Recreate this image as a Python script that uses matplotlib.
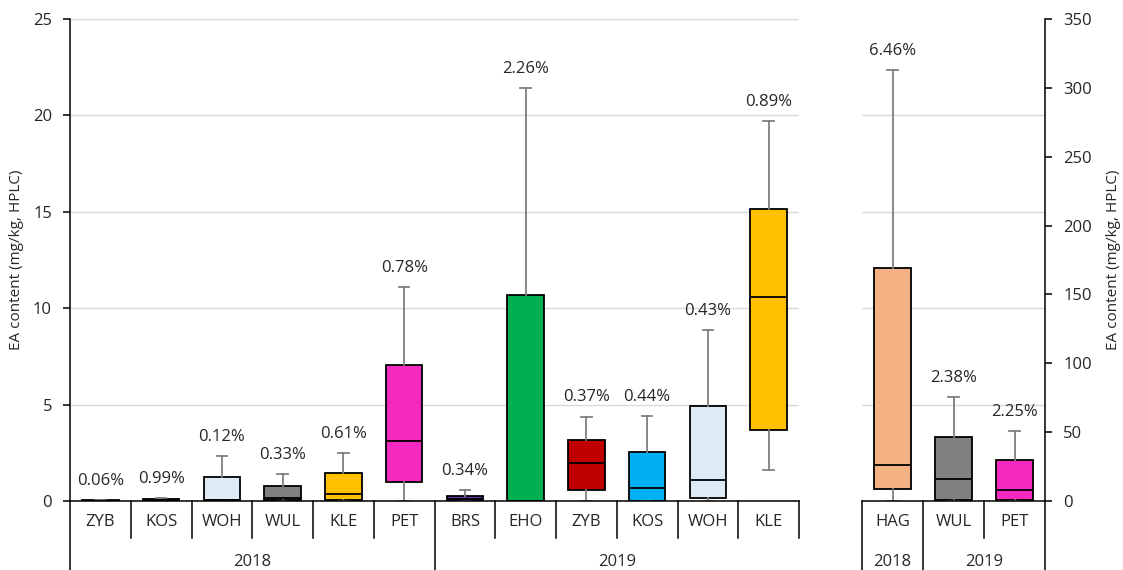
import matplotlib
matplotlib.use("Agg")
import matplotlib.pyplot as plt

plt.rcParams['font.family'] = ['Open Sans', 'DejaVu Sans']

# left panel (primary axis, mg/kg)
left_labels = ['ZYB', 'KOS', 'WOH', 'WUL', 'KLE', 'PET',
               'BRS', 'EHO', 'ZYB', 'KOS', 'WOH', 'KLE']
left_years = [('2018', 0, 6), ('2019', 6, 12)]
left_whislo = [0, 0, 0, 0, 0, 0, 0, 0, 0, 0, 0, 1.6]
left_q1 = [0, 0, 0.05, 0.05, 0.05, 1.0, 0.05, 0, 0.57, 0, 0.16, 3.68]
left_med = [0.02, 0.05, 0.05, 0.15, 0.38, 3.1, 0.1, 0.02, 1.97, 0.7, 1.1, 10.6]
left_q3 = [0.05, 0.1, 1.22, 0.8, 1.43, 7.07, 0.28, 10.7, 3.17, 2.55, 4.95, 15.15]
left_whishi = [0.05, 0.15, 2.35, 1.4, 2.5, 11.1, 0.57, 21.4, 4.38, 4.42, 8.87, 19.7]
left_pct = ['0.06%', '0.99%', '0.12%', '0.33%', '0.61%', '0.78%',
            '0.34%', '2.26%', '0.37%', '0.44%', '0.43%', '0.89%']
left_colors = ['#C00000', '#00B0F0', '#DEEBF7', '#808080', '#FFC000', '#F42AC0',
               '#7030A0', '#00B050', '#C00000', '#00B0F0', '#DEEBF7', '#FFC000']

# right panel (secondary axis)
right_labels = ['HAG', 'WUL', 'PET']
right_years = [('2018', 0, 1), ('2019', 1, 3)]
right_whislo = [0, 0, 0]
right_q1 = [8.7, 0.5, 0.5]
right_med = [26, 16, 8]
right_q3 = [169, 46.5, 30]
right_whishi = [313, 75.5, 50.5]
right_pct = ['6.46%', '2.38%', '2.25%']
right_colors = ['#F4B183', '#808080', '#F42AC0']

FS = 12
TXT = '#262626'


def draw_boxes(ax, labels, whislo, q1, med, q3, whishi, pct, colors):
    stats = []
    for i in range(len(labels)):
        stats.append(dict(whislo=whislo[i], q1=q1[i], med=med[i],
                          q3=q3[i], whishi=whishi[i], fliers=[]))
    pos = list(range(len(labels)))
    b = ax.bxp(stats, positions=pos, widths=0.6, patch_artist=True,
               showfliers=False, capwidths=0.17,
               boxprops=dict(edgecolor='black', linewidth=1.3),
               whiskerprops=dict(color='#7f7f7f', linewidth=1.3),
               capprops=dict(color='#7f7f7f', linewidth=1.3),
               medianprops=dict(color='black', linewidth=1.3))
    for patch, c in zip(b['boxes'], colors):
        patch.set_facecolor(c)
    for i, t in enumerate(pct):
        ax.annotate(t, (pos[i], whishi[i]), xytext=(0, 8),
                    textcoords='offset points', ha='center', va='bottom',
                    fontsize=FS, color=TXT)
    ax.set_xlim(-0.5, len(labels) - 0.5)
    ax.set_xticks([])


def draw_table(ax, labels, years, close_right):
    n = len(labels)
    tr = ax.get_xaxis_transform()
    for i, lab in enumerate(labels):
        ax.text(i, -0.044, lab, transform=tr, ha='center', va='center',
                fontsize=FS, color=TXT)
    bounds = set()
    for _, a, b in years:
        bounds.add(a)
        bounds.add(b)
    for k in range(n + 1):
        x = k - 0.5
        long_line = k in bounds and (k != n or close_right)
        y_end = -0.145 if long_line else -0.077
        ax.plot([x, x], [0, y_end], transform=tr, color='black',
                lw=1.1, clip_on=False)
    for name, a, b in years:
        ax.text((a + b - 1) / 2, -0.127, name, transform=tr, ha='center',
                va='center', fontsize=FS, color=TXT)


fig = plt.figure(figsize=(11.23, 5.70), dpi=100)
ax1 = fig.add_axes([70 / 1123, 69 / 570, 729 / 1123, 482 / 570])
ax2 = fig.add_axes([862 / 1123, 69 / 570, 183 / 1123, 482 / 570])

draw_boxes(ax1, left_labels, left_whislo, left_q1, left_med, left_q3,
           left_whishi, left_pct, left_colors)
draw_boxes(ax2, right_labels, right_whislo, right_q1, right_med, right_q3,
           right_whishi, right_pct, right_colors)

# left axis
ax1.set_ylim(0, 25)
ax1.set_yticks(range(0, 26, 5))
ax1.set_axisbelow(True)
ax1.grid(axis='y', color='#D9D9D9', lw=1)
for s in ['top', 'right']:
    ax1.spines[s].set_visible(False)
ax1.spines['left'].set_linewidth(1.1)
ax1.spines['bottom'].set_linewidth(1.1)
ax1.tick_params(axis='y', direction='out', length=5, width=1.1,
                labelsize=FS, labelcolor=TXT, pad=8)
ax1.set_ylabel('EA content (mg/kg, HPLC)', fontsize=11,
               color=TXT, labelpad=6)

# right axis
ax2.set_ylim(0, 350)
ax2.set_yticks(range(0, 351, 50))
ax2.set_yticks([70, 140, 210, 280, 350], minor=True)
ax2.set_axisbelow(True)
ax2.grid(axis='y', which='minor', color='#D9D9D9', lw=1)
ax2.grid(axis='y', which='major', visible=False)
ax2.yaxis.tick_right()
ax2.yaxis.set_label_position('right')
for s in ['top', 'left']:
    ax2.spines[s].set_visible(False)
ax2.spines['right'].set_linewidth(1.1)
ax2.spines['bottom'].set_linewidth(1.1)
ax2.tick_params(axis='y', which='major', direction='out', length=5,
                width=1.1, labelsize=FS, labelcolor=TXT, pad=8)
ax2.tick_params(axis='y', which='minor', length=0)
ax2.set_ylabel('EA content (mg/kg, HPLC)', fontsize=11,
               color=TXT, labelpad=10, rotation=90)

draw_table(ax1, left_labels, left_years, close_right=False)
draw_table(ax2, right_labels, right_years, close_right=True)

fig.savefig('out.png', dpi=100)
